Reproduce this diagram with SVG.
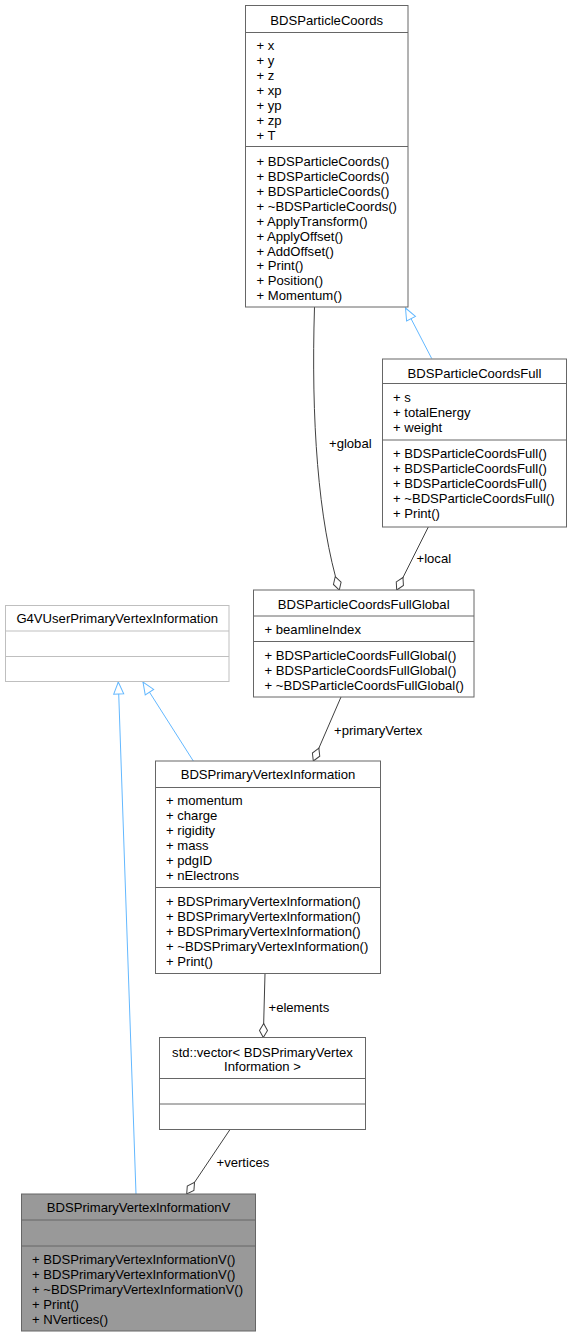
<svg xmlns="http://www.w3.org/2000/svg" width="572" height="1337" viewBox="0 0 572 1337">
<style>
text{font-family:"Liberation Sans",Arial,Helvetica,sans-serif;font-size:13.1px;fill:#000}
.c{text-anchor:middle}
.box{fill:#fff;stroke:#666;stroke-width:1}
.ext{fill:#fff;stroke:#bfbfbf;stroke-width:1}
.cur{fill:#999;stroke:#666;stroke-width:1}
.sep{stroke:#666;stroke-width:1}
.sepx{stroke:#bfbfbf;stroke-width:1}
.inh{fill:none;stroke:#63b8ff;stroke-width:1;marker-end:url(#tri)}
.agg{fill:none;stroke:#404040;stroke-width:1;marker-end:url(#dia)}
</style>
<defs>
<marker id="tri" markerUnits="userSpaceOnUse" viewBox="-1 -7 14 14" refX="12" refY="0" markerWidth="14" markerHeight="14" orient="auto">
<path d="M0,-5 L12,0 L0,5 Z" fill="#fff" stroke="#63b8ff" stroke-width="1"/>
</marker>
<marker id="dia" markerUnits="userSpaceOnUse" viewBox="-1 -6 16 12" refX="14" refY="0" markerWidth="16" markerHeight="12" orient="auto">
<path d="M0,0 L7,-4 L14,0 L7,4 Z" fill="#fff" stroke="#404040" stroke-width="1"/>
</marker>
</defs>
<g id="connectors">
<path class="inh" d="M431.7,358.5 L405.5,308"/>
<path class="agg" d="M314.5,307 C311,420 318,520 339.3,590"/>
<path class="agg" d="M428.3,527 L396.7,590"/>
<path class="inh" d="M193.3,761 L143,682"/>
<path class="inh" d="M136,1194 L118.3,682"/>
<path class="agg" d="M341,697 L313.3,761"/>
<path class="agg" d="M265,973.5 L263.3,1037.5"/>
<path class="agg" d="M230,1129.5 L186.7,1194"/>
<text x="329" y="448">+global</text>
<text x="416.5" y="563">+local</text>
<text x="334" y="734.5">+primaryVertex</text>
<text x="268.5" y="1012">+elements</text>
<text x="216.5" y="1167">+vertices</text>
</g>
<g id="BDSParticleCoords">
<rect class="box" x="245.5" y="5.5" width="162.5" height="301.5"/>
<line class="sep" x1="245.5" y1="32.5" x2="408" y2="32.5"/>
<line class="sep" x1="245.5" y1="146.5" x2="408" y2="146.5"/>
<text class="c" x="326.7" y="24.5">BDSParticleCoords</text>
<text x="256.5" y="50">+ x</text>
<text x="256.5" y="65">+ y</text>
<text x="256.5" y="80">+ z</text>
<text x="256.5" y="95">+ xp</text>
<text x="256.5" y="110">+ yp</text>
<text x="256.5" y="125">+ zp</text>
<text x="256.5" y="140">+ T</text>
<text x="256.5" y="165.5">+ BDSParticleCoords()</text>
<text x="256.5" y="180.5">+ BDSParticleCoords()</text>
<text x="256.5" y="195.5">+ BDSParticleCoords()</text>
<text x="256.5" y="210.5">+ ~BDSParticleCoords()</text>
<text x="256.5" y="225.5">+ ApplyTransform()</text>
<text x="256.5" y="240.5">+ ApplyOffset()</text>
<text x="256.5" y="255.5">+ AddOffset()</text>
<text x="256.5" y="270">+ Print()</text>
<text x="256.5" y="285">+ Position()</text>
<text x="256.5" y="300">+ Momentum()</text>
</g>
<g id="BDSParticleCoordsFull">
<rect class="box" x="382.5" y="359" width="184" height="168"/>
<line class="sep" x1="382.5" y1="383.5" x2="566.5" y2="383.5"/>
<line class="sep" x1="382.5" y1="440" x2="566.5" y2="440"/>
<text class="c" x="474.5" y="378">BDSParticleCoordsFull</text>
<text x="393" y="401.5">+ s</text>
<text x="393" y="416.5">+ totalEnergy</text>
<text x="393" y="431.5">+ weight</text>
<text x="393" y="457.5">+ BDSParticleCoordsFull()</text>
<text x="393" y="472.5">+ BDSParticleCoordsFull()</text>
<text x="393" y="487.5">+ BDSParticleCoordsFull()</text>
<text x="393" y="502.5">+ ~BDSParticleCoordsFull()</text>
<text x="393" y="517.5">+ Print()</text>
</g>
<g id="G4VUserPrimaryVertexInformation">
<rect class="ext" x="5.5" y="605.5" width="223.5" height="76"/>
<line class="sepx" x1="5.5" y1="631" x2="229" y2="631"/>
<line class="sepx" x1="5.5" y1="656.5" x2="229" y2="656.5"/>
<text class="c" x="117.2" y="623">G4VUserPrimaryVertexInformation</text>
</g>
<g id="BDSParticleCoordsFullGlobal">
<rect class="box" x="253.5" y="590" width="220.5" height="107"/>
<line class="sep" x1="253.5" y1="616" x2="474" y2="616"/>
<line class="sep" x1="253.5" y1="641.5" x2="474" y2="641.5"/>
<text class="c" x="363.7" y="608.5">BDSParticleCoordsFullGlobal</text>
<text x="264.5" y="634">+ beamlineIndex</text>
<text x="264.5" y="659.5">+ BDSParticleCoordsFullGlobal()</text>
<text x="264.5" y="674.5">+ BDSParticleCoordsFullGlobal()</text>
<text x="264.5" y="689.5">+ ~BDSParticleCoordsFullGlobal()</text>
</g>
<g id="BDSPrimaryVertexInformation">
<rect class="box" x="155.5" y="761" width="225" height="212.5"/>
<line class="sep" x1="155.5" y1="787.5" x2="380.5" y2="787.5"/>
<line class="sep" x1="155.5" y1="887.5" x2="380.5" y2="887.5"/>
<text class="c" x="268" y="779">BDSPrimaryVertexInformation</text>
<text x="166" y="804.5">+ momentum</text>
<text x="166" y="819.5">+ charge</text>
<text x="166" y="834.5">+ rigidity</text>
<text x="166" y="849.5">+ mass</text>
<text x="166" y="864.5">+ pdgID</text>
<text x="166" y="879.5">+ nElectrons</text>
<text x="166" y="906">+ BDSPrimaryVertexInformation()</text>
<text x="166" y="921">+ BDSPrimaryVertexInformation()</text>
<text x="166" y="936">+ BDSPrimaryVertexInformation()</text>
<text x="166" y="951">+ ~BDSPrimaryVertexInformation()</text>
<text x="166" y="966">+ Print()</text>
</g>
<g id="std_vector">
<rect class="box" x="159.5" y="1037.5" width="206" height="92"/>
<line class="sep" x1="159.5" y1="1078.5" x2="365.5" y2="1078.5"/>
<line class="sep" x1="159.5" y1="1104" x2="365.5" y2="1104"/>
<text class="c" x="262.5" y="1057">std::vector&lt; BDSPrimaryVertex</text>
<text class="c" x="262.5" y="1070.5">Information &gt;</text>
</g>
<g id="BDSPrimaryVertexInformationV">
<rect class="cur" x="21.5" y="1194" width="234" height="137"/>
<line class="sep" x1="21.5" y1="1220" x2="255.5" y2="1220"/>
<line class="sep" x1="21.5" y1="1246" x2="255.5" y2="1246"/>
<text class="c" x="138.5" y="1212">BDSPrimaryVertexInformationV</text>
<text x="32" y="1263.5">+ BDSPrimaryVertexInformationV()</text>
<text x="32" y="1278.5">+ BDSPrimaryVertexInformationV()</text>
<text x="32" y="1293.5">+ ~BDSPrimaryVertexInformationV()</text>
<text x="32" y="1308.5">+ Print()</text>
<text x="32" y="1323.5">+ NVertices()</text>
</g>
</svg>
